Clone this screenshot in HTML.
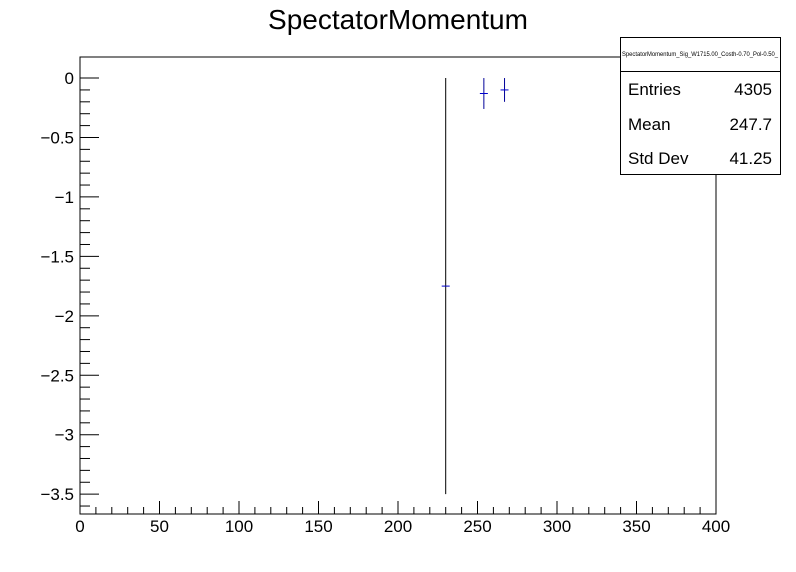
<!DOCTYPE html>
<html><head><meta charset="utf-8"><style>
body{margin:0;background:#fff;}
svg{display:block;font-family:"Liberation Sans",sans-serif;}
</style></head><body>
<svg id="c" width="796" height="572">
<rect x="0" y="0" width="796" height="572" fill="#fff"/>
<text x="398" y="29" font-size="28" text-anchor="middle">SpectatorMomentum</text>
<rect x="80" y="57" width="636" height="457" fill="none" stroke="#000" stroke-width="1"/>
<g id="axes"></g>
<g id="marks"></g>
<g>
<rect x="620.5" y="37.5" width="160" height="137" fill="#fff" stroke="#000"/>
<line x1="620.5" y1="71.5" x2="780.5" y2="71.5" stroke="#000"/>
<text x="700" y="56" font-size="6" text-anchor="middle" textLength="156" lengthAdjust="spacingAndGlyphs">SpectatorMomentum_Sig_W1715.00_Costh-0.70_Pol-0.50_</text>
<text x="628" y="95" font-size="17">Entries</text>
<text x="772" y="95" font-size="17" text-anchor="end">4305</text>
<text x="628" y="130" font-size="17">Mean</text>
<text x="772" y="130" font-size="17" text-anchor="end">247.7</text>
<text x="628" y="164" font-size="17">Std Dev</text>
<text x="772" y="164" font-size="17" text-anchor="end">41.25</text>
</g>
</svg>
<script>
const xCenters = [230, 254, 267];
const yValues = [-1.75, -0.13, -0.10];
const yErrors = [1.75, 0.13, 0.10];
const xTickLabels = ["0","50","100","150","200","250","300","350","400"];
const yTickLabels = ["0","\u22120.5","\u22121","\u22121.5","\u22122","\u22122.5","\u22123","\u22123.5"];

const NS="http://www.w3.org/2000/svg";
const X0=80,X1=716,XMIN=0,XMAX=400;
const Y0=514,Y1=57,YMIN=-3.667,YMAX=0.177;
function sx(v){return X0+(v-XMIN)/(XMAX-XMIN)*(X1-X0);}
function sy(v){return Y0-(v-YMIN)/(YMAX-YMIN)*(Y0-Y1);}
function mk(tag,attrs,parent){const e=document.createElementNS(NS,tag);for(const k in attrs)e.setAttribute(k,attrs[k]);parent.appendChild(e);return e;}
const axes=document.getElementById('axes');
for(let v=0;v<=400;v+=10){
  const major=v%50===0;
  const t=mk('line',{x1:sx(v),x2:sx(v),y1:Y0,y2:Y0-(major?13:7),stroke:'#000'},axes);
  
  
}
xTickLabels.forEach((s,i)=>{
  const t=mk('text',{x:sx(i*50),y:532,'font-size':17,'text-anchor':'middle'},axes);
  t.textContent=s;
  
  
});
for(let i=0;i>=-36;i--){
  const v=i/10;
  const major=i%5===0;
  const t=mk('line',{x1:X0,x2:X0+(major?19:10),y1:sy(v),y2:sy(v),stroke:'#000'},axes);
  
  
}
yTickLabels.forEach((s,i)=>{
  const t=mk('text',{x:74,y:sy(-i*0.5)+6,'font-size':17,'text-anchor':'end'},axes);
  t.textContent=s;
  
  
});
const marks=document.getElementById('marks');
xCenters.forEach((x,i)=>{
  const g=mk('g',{},marks);
  
  
  const col=i===0?'#000':'#000099';
  mk('line',{x1:sx(x),x2:sx(x),y1:sy(yValues[i]+yErrors[i]),y2:sy(yValues[i]-yErrors[i]),stroke:col},g);
  mk('line',{x1:sx(x)-4,x2:sx(x)+4,y1:sy(yValues[i]),y2:sy(yValues[i]),stroke:'#0000cc'},g);
});
</script>
</body></html>
